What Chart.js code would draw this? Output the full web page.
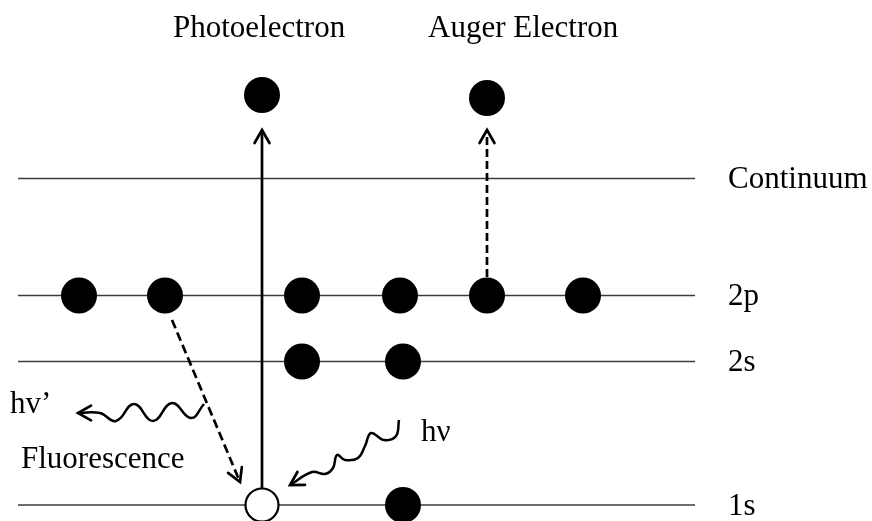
<!DOCTYPE html>
<html>
<head>
<meta charset="utf-8">
<script src="https://cdn.jsdelivr.net/npm/chart.js@4"></script>
<style>
  html, body { margin: 0; padding: 0; background: #ffffff; }
  #wrap { width: 872px; height: 521px; }
</style>
</head>
<body>
<div id="wrap"><canvas id="c" width="872" height="521"></canvas></div>
<script>
// ---- data (diagram units: x across, y down) ----
const levelNames   = ['Continuum', '2p', '2s', '1s'];
const levelY       = [178.5, 295.5, 361.5, 505];
const levelXStart  = 18;
const levelXEnd    = 695;

const electrons2pX = [79, 165, 302, 400, 487, 583];
const electrons2sX = [302, 403];
const electrons1sX = [403];
const holes1sX     = [262];

const ejectedNames = ['Photoelectron', 'Auger Electron'];
const ejectedX     = [262, 487];
const ejectedY     = [95, 98];

// arrows: [fromX, fromY, toX, toY]
const photoArrow   = [262, 488, 262, 130];
const augerArrow   = [487, 277, 487, 130];
const fluorArrow   = [172, 320, 240, 482];

// wavy photons (traced points, start -> arrow tip)
const hvPrimeX = [204, 191, 172, 153, 134, 116, 100, 78];
const hvPrimeY = [404, 418, 403, 421, 404, 421, 413, 413];
const hvX = [399, 396, 384, 371, 365, 358, 345, 337, 333, 325, 312, 290];
const hvY = [420, 436, 440, 433, 446, 458, 460, 455, 468, 474, 472, 485];

const textLabels = ['Photoelectron', 'Auger Electron', 'hv’', 'hν', 'Fluorescence'];

// ---- build datasets ----
const pts = (xs, ys) => xs.map((x, i) => ({ x: x, y: Array.isArray(ys) ? ys[i] : ys }));
const ds = [];

levelY.forEach((y, i) => {
  ds.push({
    label: levelNames[i], data: [{ x: levelXStart, y: y }, { x: levelXEnd, y: y }],
    showLine: true, borderColor: '#3c3c3c', borderWidth: 1.4, pointRadius: 0, order: 5
  });
});

function arrowDs(a, dash, label) {
  return {
    label: label, data: [{ x: a[0], y: a[1] }, { x: a[2], y: a[3] }],
    showLine: true, borderColor: '#000', borderWidth: 2.7, borderDash: dash,
    pointRadius: 0, order: 3, arrowHead: true
  };
}
ds.push(arrowDs(photoArrow, [], 'photo'));
ds.push(arrowDs(augerArrow, [8, 4], 'auger'));
ds.push(arrowDs(fluorArrow, [9, 4.5], 'fluor'));

ds.push({
  label: 'hv′ wave', data: pts(hvPrimeX, hvPrimeY), showLine: true, tension: 0.45,
  borderColor: '#000', borderWidth: 2.5, pointRadius: 0, order: 3, arrowHead: true
});
ds.push({
  label: 'hv wave', data: pts(hvX, hvY), showLine: true, tension: 0.4,
  borderColor: '#000', borderWidth: 2.5, pointRadius: 0, order: 3, arrowHead: true
});

const filled = [].concat(
  pts(electrons2pX, levelY[1]),
  pts(electrons2sX, levelY[2]),
  pts(electrons1sX, levelY[3]),
  pts(ejectedX, ejectedY)
);
ds.push({
  label: 'electrons', data: filled, showLine: false,
  pointRadius: 18, pointBackgroundColor: '#000', pointBorderColor: '#000', pointBorderWidth: 0,
  order: 1
});
ds.push({
  label: 'hole', data: pts(holes1sX, levelY[3]), showLine: false,
  pointRadius: 16.5, pointBackgroundColor: '#fff', pointBorderColor: '#000', pointBorderWidth: 2.2,
  order: 1
});

// ---- plugins ----
const arrowPlugin = {
  id: 'arrowHeads',
  afterDatasetsDraw(chart) {
    const ctx = chart.ctx;
    chart.data.datasets.forEach((d, i) => {
      if (!d.arrowHead) return;
      const el = chart.getDatasetMeta(i).data;
      const p1 = el[el.length - 2], p2 = el[el.length - 1];
      const ang = Math.atan2(p2.y - p1.y, p2.x - p1.x);
      const len = 15, spread = 0.52;
      ctx.save();
      ctx.strokeStyle = '#000';
      ctx.lineWidth = 2.7;
      ctx.lineCap = 'round';
      ctx.lineJoin = 'miter';
      ctx.setLineDash([]);
      ctx.beginPath();
      ctx.moveTo(p2.x - len * Math.cos(ang - spread), p2.y - len * Math.sin(ang - spread));
      ctx.lineTo(p2.x, p2.y);
      ctx.lineTo(p2.x - len * Math.cos(ang + spread), p2.y - len * Math.sin(ang + spread));
      ctx.stroke();
      ctx.restore();
    });
  }
};

const textPlugin = {
  id: 'diagramText',
  afterDraw(chart) {
    const ctx = chart.ctx, sx = chart.scales.x, sy = chart.scales.y;
    ctx.save();
    ctx.fillStyle = '#000';
    ctx.font = '31px "Liberation Serif", "Times New Roman", serif';
    ctx.textBaseline = 'alphabetic';
    ctx.textAlign = 'left';
    const place = [
      [textLabels[0], 173, 37], [textLabels[1], 428, 37],
      [textLabels[2], 10, 413], [textLabels[3], 421, 441], [textLabels[4], 21, 468]
    ];
    place.forEach(p => ctx.fillText(p[0], sx.getPixelForValue(p[1]), sy.getPixelForValue(p[2])));
    levelNames.forEach((n, i) => {
      ctx.fillText(n, sx.getPixelForValue(levelXEnd + 33), sy.getPixelForValue(levelY[i]) + 9.5);
    });
    ctx.restore();
  }
};

new Chart(document.getElementById('c'), {
  type: 'scatter',
  data: { datasets: ds },
  options: {
    responsive: false,
    animation: false,
    devicePixelRatio: 1,
    layout: { padding: 0, autoPadding: false },
    clip: false,
    plugins: { legend: { display: false }, tooltip: { enabled: false } },
    elements: { line: { capBezierPoints: false, borderCapStyle: 'butt' } },
    scales: {
      x: { type: 'linear', min: 0, max: 872, display: false },
      y: { type: 'linear', min: 0, max: 521, reverse: true, display: false }
    }
  },
  plugins: [arrowPlugin, textPlugin]
});
</script>
</body>
</html>
